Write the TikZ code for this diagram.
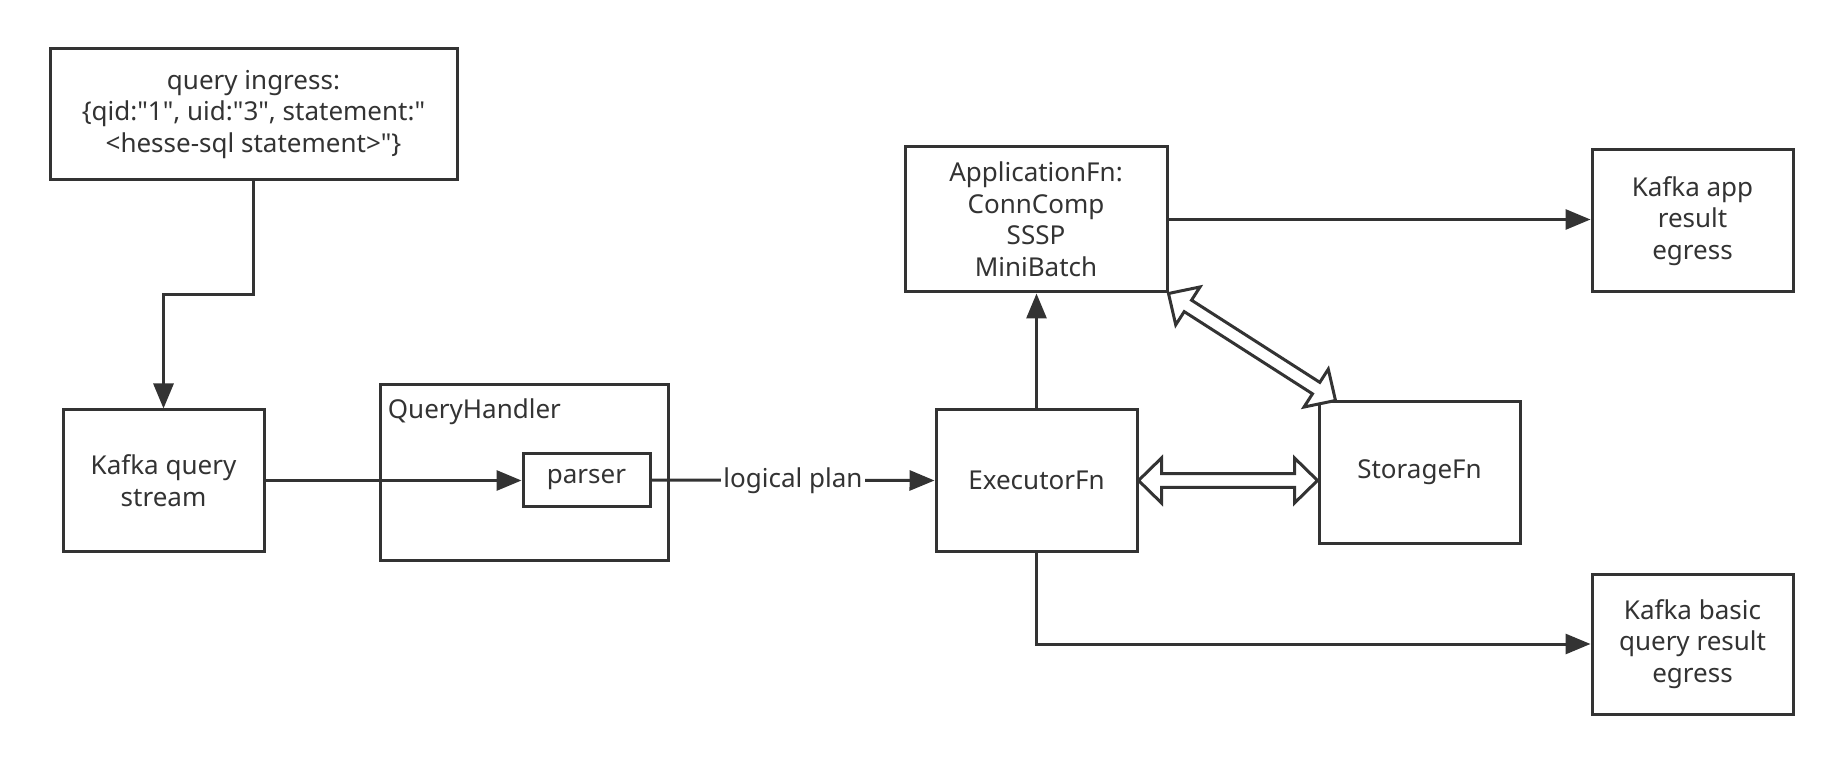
\documentclass[tikz,border=0pt]{standalone}
\usepackage{fontspec}
\setmainfont{Noto Sans}[Ligatures=TeXOff]
\usetikzlibrary{arrows.meta,calc}
\definecolor{ink}{HTML}{333333}
\newcommand\hollowdbl[2]{%
  \coordinate (#1h) at ($(#1)!11.5pt!(#2)$);
  \coordinate (#2h) at ($(#2)!11.5pt!(#1)$);
  \draw[hollow] (#1) -- ($(#1h)!11.25pt!90:(#2)$) -- ($(#1h)!3.4pt!90:(#2)$)
    -- ($(#2h)!3.4pt!-90:(#1)$) -- ($(#2h)!11.25pt!-90:(#1)$) -- (#2)
    -- ($(#2h)!11.25pt!90:(#1)$) -- ($(#2h)!3.4pt!90:(#1)$)
    -- ($(#1h)!3.4pt!-90:(#2)$) -- ($(#1h)!11.25pt!-90:(#2)$) -- cycle;}
\begin{document}
\begin{tikzpicture}[x=0.5pt,y=-0.5pt,
  txt/.style={text=ink, font=\fontsize{13}{15.75}\selectfont},
  box/.style={txt, draw=ink, line width=1.5pt, inner sep=0pt, align=center},
  conn/.style={draw=ink, line width=1.5pt, -{Triangle[length=12.5pt,width=10pt]}},
  hollow/.style={draw=ink, fill=white, line width=1.5pt, line join=miter}]
\useasboundingbox (0,0) rectangle (1842,764);
\fill[white] (0,0) rectangle (1842,764);

\node[box, minimum width=203.5pt, minimum height=65.5pt] (query) at (253.5,114.5)
  {query ingress:\\\{qid:"1", uid:"3", statement:"\\<hesse-sql statement>"\}};
\node[box, minimum width=100.5pt, minimum height=70.5pt] (kafka) at (163.5,480.5) {Kafka query\\stream};
\node[box, minimum width=144pt, minimum height=87.5pt] (qh) at (524,472.5) {};
\node[txt, anchor=base west, inner sep=0pt] (qhlabel) at ($(qh.north west)+(9,35)$) {QueryHandler};
\node[box, minimum width=63.5pt, minimum height=26pt] (parser) at (586.5,480) {parser};
\node[box, minimum width=100.5pt, minimum height=70.5pt] (exec) at (1036.5,480.5) {ExecutorFn};
\node[box, minimum width=100.5pt, minimum height=70.5pt] (storage) at (1419.5,472.5) {StorageFn};
\node[box, minimum width=131pt, minimum height=72.5pt] (app) at (1036,219.5) {ApplicationFn:\\ConnComp\\SSSP\\MiniBatch};
\node[box, minimum width=100.5pt, minimum height=71pt] (kapp) at (1692.5,221) {Kafka app\\result\\egress};
\node[box, minimum width=100.5pt, minimum height=70pt] (kbasic) at (1692.5,644) {Kafka basic\\query result\\egress};

\coordinate (mid) at ($(query.south)!0.5!(kafka.north)$);
\draw[conn] (query.south) -- (query.south |- mid) -| (kafka.north);
\draw[conn] (kafka.east) -- (kafka.east -| parser.west);
\draw[conn] (parser.east) -- node[txt, fill=white, inner sep=1pt] (lp) {logical plan} (exec.west);
\draw[conn] (exec.north) -- (exec.north |- app.south);
\draw[conn] (app.east) -- (app.east -| kapp.west);
\draw[conn] (exec.south) |- (kbasic.west);

\coordinate (d1a) at (exec.east);
\coordinate (d1b) at (exec.east -| storage.west);
\hollowdbl{d1a}{d1b}
\coordinate (d2a) at (app.south east);
\coordinate (d2b) at ($(storage.north west)+(18,0)$);
\hollowdbl{d2a}{d2b}
\end{tikzpicture}
\end{document}
